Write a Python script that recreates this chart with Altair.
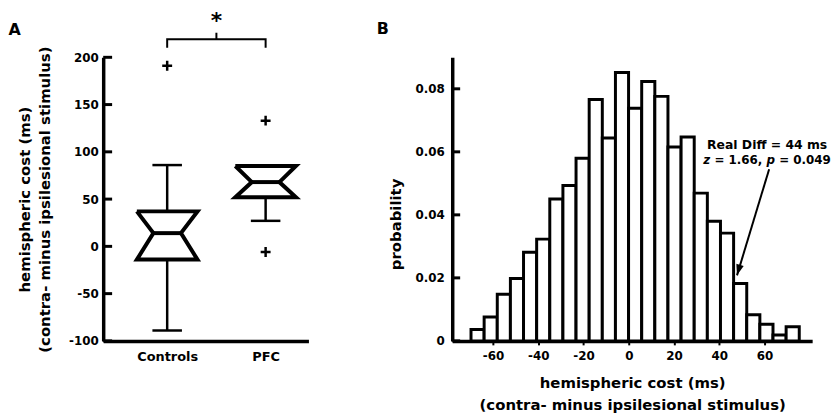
import altair as alt
import pandas as pd

FONT = "DejaVu Sans"

# ---------------- Panel A data ----------------
groups = ["Controls", "PFC"]
group_pos = [1, 2]
q1 = [-14, 52]
median = [14, 68]
q3 = [37, 85]
whisker_lo = [-89, 27]
whisker_hi = [86, 85]
outlier_group = ["Controls", "PFC", "PFC"]
outlier_val = [191, 133, -6]
a_yticks = [-100, -50, 0, 50, 100, 150, 200]
a_ytitle = ["hemispheric cost (ms)", "(contra- minus ipsilesional stimulus)"]

# significance bracket (data units)
bracket_y = 219
bracket_end = 210
bracket_top = 226
star_text = "*"

# ---------------- Panel B data ----------------
bin_centers = [-66.8, -61.0, -55.2, -49.4, -43.6, -37.8, -32.0, -26.2, -20.4,
               -14.6, -8.8, -3.0, 2.8, 8.6, 14.4, 20.2, 26.0, 31.8, 37.6,
               43.4, 49.2, 55.0, 60.8, 66.6, 72.4]
probability = [0.0036, 0.0076, 0.0148, 0.0198, 0.0281, 0.0323, 0.0450, 0.0493,
               0.0580, 0.0766, 0.0644, 0.0852, 0.0738, 0.0823, 0.0776, 0.0615,
               0.0647, 0.0469, 0.0380, 0.0342, 0.0182, 0.0083, 0.0053, 0.0019,
               0.0045]
bin_width = 5.8
b_xticks = [-60, -40, -20, 0, 20, 40, 60]
b_yticks = [0, 0.02, 0.04, 0.06, 0.08]
b_xtitle = ["hemispheric cost (ms)", "(contra- minus ipsilesional stimulus)"]
b_ytitle = "probability"
note_line1 = "Real Diff = 44 ms"
note_line2 = ["z", "= 1.66,", "p", "= 0.049"]
note_x = 61.1
note_y1 = 0.0608
note_y2 = 0.0561
arrow_x = [62.0, 47.8]
arrow_y = [0.0545, 0.0208]

# ---------------- styling constants ----------------
BOX_HALF = 0.308
NOTCH_HALF = 0.14
CAP_HALF = 0.15
AXW = 3.5

# ---------------- build tables ----------------
outline_rows = []
for g, p, a, m, b in zip(groups, group_pos, q1, median, q3):
    pts = [(p - BOX_HALF, b), (p + BOX_HALF, b), (p + NOTCH_HALF, m),
           (p + BOX_HALF, a), (p - BOX_HALF, a), (p - NOTCH_HALF, m),
           (p - BOX_HALF, b)]
    for i, (x, y) in enumerate(pts):
        outline_rows.append({"grp": g, "ord": i, "x": x, "y": y})
outline_df = pd.DataFrame(outline_rows)

med_df = pd.DataFrame({"grp": groups,
                       "x": [p - NOTCH_HALF for p in group_pos],
                       "x2": [p + NOTCH_HALF for p in group_pos],
                       "y": median})

whisk_df = pd.DataFrame({"x": group_pos + group_pos,
                         "y": q3 + q1,
                         "y2": whisker_hi + whisker_lo})
cap_df = pd.DataFrame({"x": [p - CAP_HALF for p in group_pos] * 2,
                       "x2": [p + CAP_HALF for p in group_pos] * 2,
                       "y": whisker_hi + whisker_lo})
pos_of = dict(zip(groups, group_pos))
out_df = pd.DataFrame({"x": [pos_of[g] for g in outlier_group], "y": outlier_val})

br_df = pd.DataFrame({"ord": [0, 1, 2, 3],
                      "x": [group_pos[0], group_pos[0], group_pos[1], group_pos[1]],
                      "y": [bracket_end, bracket_y, bracket_y, bracket_end]})
br_mid_df = pd.DataFrame({"x": [(group_pos[0] + group_pos[1]) / 2],
                          "y": [bracket_y], "y2": [bracket_top], "t": [star_text]})
a_tick_df = pd.DataFrame({"y": a_yticks})
a_lab_df = pd.DataFrame({"t": ["A"]})

hist_df = pd.DataFrame({"x": [c - bin_width / 2 for c in bin_centers],
                        "x2": [c + bin_width / 2 for c in bin_centers],
                        "y": probability,
                        "y2": [0.0] * len(bin_centers)})
b_tick_df = pd.DataFrame({"y": b_yticks})
arrow_df = pd.DataFrame({"x": [arrow_x[0]], "y": [arrow_y[0]],
                         "x2": [arrow_x[1]], "y2": [arrow_y[1]]})
tip_df = pd.DataFrame({"x": [arrow_x[1]], "y": [arrow_y[1]]})
b_lab_df = pd.DataFrame({"t": ["B"]})

# ---------------- Panel A ----------------
xA = alt.Scale(domain=[0.35, 2.435], nice=False, zero=False)
yA = alt.Scale(domain=[-100, 200], nice=False, zero=False)

axisAx = alt.Axis(values=group_pos,
                  labelExpr=f"datum.value == {group_pos[0]} ? '{groups[0]}' : '{groups[1]}'",
                  ticks=False, grid=False, domainWidth=AXW, domainColor="black",
                  labelFontSize=13, labelPadding=10, title=None)
axisAy = alt.Axis(values=a_yticks, labelExpr="datum.value + ''", ticks=False,
                  grid=False, domainWidth=AXW, domainColor="black",
                  labelFontSize=12, labelPadding=5, title=a_ytitle,
                  titleFontSize=15, titleLineHeight=20, titlePadding=16)

XA = alt.X("x:Q", scale=xA, axis=axisAx)
YA = alt.Y("y:Q", scale=yA, axis=axisAy)

box = alt.Chart(outline_df).mark_line(color="black", strokeWidth=4,
                                      strokeJoin="miter").encode(
    x=XA, y=YA, detail="grp:N", order="ord:Q")

med = alt.Chart(med_df).mark_rule(color="black", strokeWidth=4).encode(
    x=XA, x2="x2:Q", y=YA)

whisk = alt.Chart(whisk_df).mark_rule(color="black", strokeWidth=2.5).encode(
    x=XA, y=YA, y2="y2:Q")

caps = alt.Chart(cap_df).mark_rule(color="black", strokeWidth=2.5).encode(
    x=XA, x2="x2:Q", y=YA)

outl = alt.Chart(out_df).mark_point(shape="M-1,0L1,0M0,-1L0,1", filled=False,
                                    color="black", strokeWidth=2.5, size=100,
                                    opacity=1).encode(x=XA, y=YA)

bracket = alt.Chart(br_df).mark_line(color="black", strokeWidth=2,
                                     strokeJoin="miter").encode(
    x=XA, y=YA, order="ord:Q")

br_mid = alt.Chart(br_mid_df).mark_rule(color="black", strokeWidth=2).encode(
    x=XA, y=YA, y2="y2:Q")

star = alt.Chart(br_mid_df).mark_text(font=FONT, fontWeight="bold", fontSize=22,
                                      color="black", align="center",
                                      baseline="alphabetic").encode(
    x=XA, y=alt.value(-30), text="t:N")

a_ticks = alt.Chart(a_tick_df).mark_rule(color="black", strokeWidth=3).encode(
    y=YA, x=alt.value(0), x2=alt.value(9))

a_label = alt.Chart(a_lab_df).mark_text(font=FONT, fontWeight="bold", fontSize=16,
                                        color="black", align="left",
                                        baseline="alphabetic").encode(
    x=alt.value(-95.5), y=alt.value(-22), text="t:N")

panelA = alt.layer(box, med, whisk, caps, outl, bracket, br_mid, star,
                   a_ticks, a_label).properties(width=207, height=286)

# ---------------- Panel B ----------------
xB = alt.Scale(domain=[-78, 81], nice=False, zero=False)
yB = alt.Scale(domain=[0, 0.09], nice=False, zero=False)

axisBx = alt.Axis(values=b_xticks, labelExpr="datum.value + ''", ticks=True,
                  tickSize=4, tickWidth=2, tickColor="black", grid=False,
                  domainWidth=AXW, domainColor="black", labelFontSize=12,
                  labelPadding=6, title=b_xtitle, titleFontSize=15,
                  titleLineHeight=22, titlePadding=14)
axisBy = alt.Axis(values=b_yticks,
                  labelExpr="datum.value == 0 ? '0' : format(datum.value, '.2f')",
                  ticks=False, grid=False, domainWidth=AXW, domainColor="black",
                  labelFontSize=12, labelPadding=8, title=b_ytitle,
                  titleFontSize=15, titlePadding=12, titleY=168)

XB = alt.X("x:Q", scale=xB, axis=axisBx)
YB = alt.Y("y:Q", scale=yB, axis=axisBy)

bars = alt.Chart(hist_df).mark_rect(fill="white", stroke="black",
                                    strokeWidth=3).encode(
    x=XB, x2="x2:Q", y=YB, y2="y2:Q")

b_ticks = alt.Chart(b_tick_df).mark_rule(color="black", strokeWidth=3).encode(
    y=YB, x=alt.value(0), x2=alt.value(8))

arrow = alt.Chart(arrow_df).mark_rule(color="black", strokeWidth=2).encode(
    x=XB, x2="x2:Q", y=YB, y2="y2:Q")

tip = alt.Chart(tip_df).mark_point(shape="M0,0L-0.35,-1L0.35,-1Z", filled=True,
                                   color="black", size=484, angle=16,
                                   opacity=1).encode(x=XB, y=YB)

note1_df = pd.DataFrame({"x": [note_x], "y": [note_y1], "t": [note_line1]})
note1 = alt.Chart(note1_df).mark_text(font=FONT, fontWeight="bold", fontSize=12.5,
                                      color="black", align="center",
                                      baseline="alphabetic").encode(
    x=XB, y=YB, text="t:N")

# second line, built from pieces (italic z and p); offsets in em of DejaVu Sans Bold
fs2 = 12
piece_start_em = [0.0, 0.941, 5.323, 6.387]
total_em = 10.737
note2_layers = []
for s, st in zip(note_line2, piece_start_em):
    style = "italic" if s in ("z", "p") else "normal"
    d = pd.DataFrame({"x": [note_x], "y": [note_y2], "t": [s]})
    note2_layers.append(
        alt.Chart(d).mark_text(font=FONT, fontWeight="bold", fontStyle=style,
                               fontSize=fs2, color="black", align="left",
                               baseline="alphabetic",
                               dx=(st - total_em / 2) * fs2).encode(
            x=XB, y=YB, text="t:N"))

b_label = alt.Chart(b_lab_df).mark_text(font=FONT, fontWeight="bold", fontSize=16,
                                        color="black", align="left",
                                        baseline="alphabetic").encode(
    x=alt.value(-76), y=alt.value(-24), text="t:N")

panelB = alt.layer(bars, b_ticks, arrow, tip, note1, *note2_layers,
                   b_label).properties(width=363, height=286)

chart = alt.hconcat(panelA, panelB, spacing=145, bounds="flush").properties(
    padding={"left": 0, "top": 0, "right": 0, "bottom": 0}
).configure_view(stroke=None).configure_axis(
    labelFont=FONT, labelFontWeight="bold", labelColor="black",
    titleFont=FONT, titleFontWeight="bold", titleColor="black",
    labelOverlap=False, labelFlush=False
)

chart.save("out.html", embed_options={"renderer": "svg", "actions": False})
